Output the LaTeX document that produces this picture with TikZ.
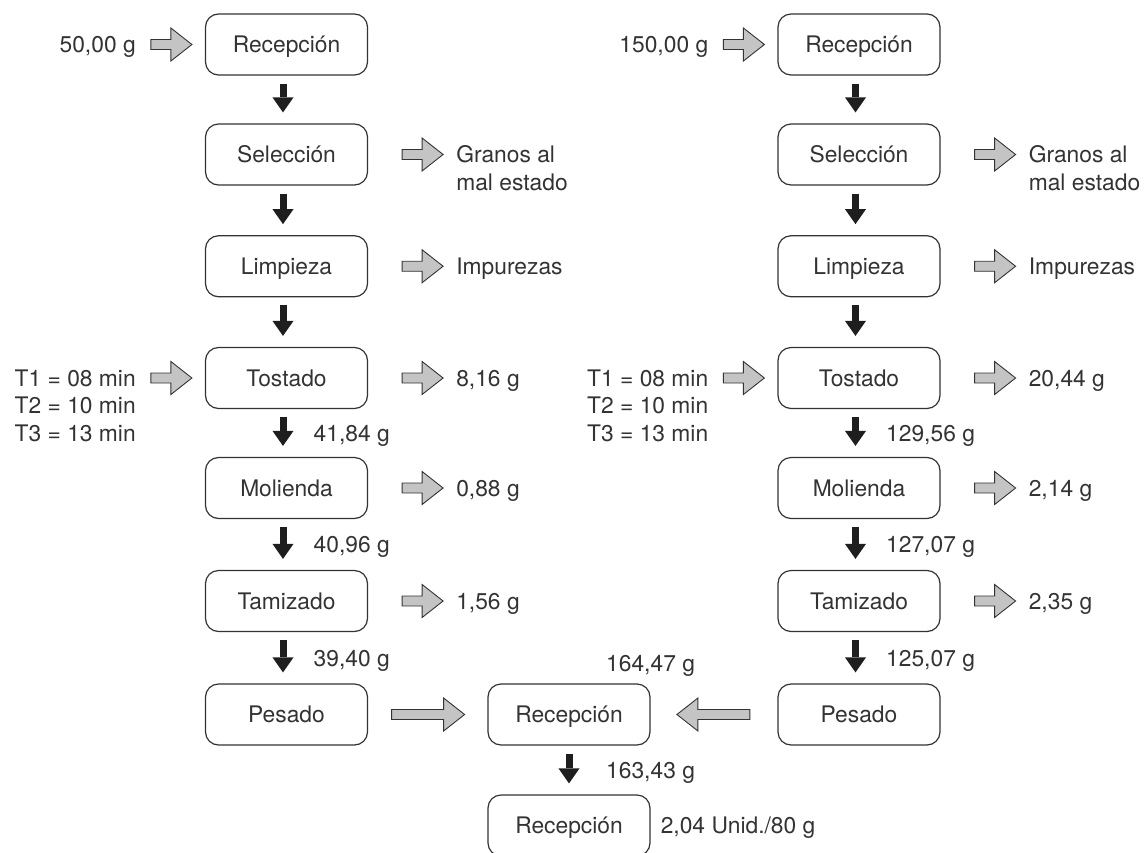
\documentclass[tikz,border=0pt]{standalone}
\usepackage{fontspec}
\setmainfont{TeX Gyre Heros}
\usetikzlibrary{arrows.meta,calc}
\definecolor{ink}{HTML}{333333}
\definecolor{gfill}{HTML}{C4C4C4}
\definecolor{blk}{HTML}{1E1E1E}
\begin{document}
\begin{tikzpicture}[x=1pt,y=1pt,
  txt/.style={inner sep=0pt, text height=16.5pt, text depth=0pt, text=ink, font=\fontsize{22.8}{27.5}\selectfont},
  box/.style={txt, draw=ink, line width=1.2pt, rounded corners=13pt, minimum width=162pt, minimum height=61pt},
  down/.style={draw=blk, line width=7pt, -{Triangle[length=15pt,width=21pt,line width=0pt]}},
  pics/fat/.style={code={\draw[draw=ink, fill=gfill, line width=0.9pt, line join=miter]
     (0,-5)--({#1-21},-5)--({#1-21},-16.5)--(#1,0)--({#1-21},16.5)--({#1-21},5)--(0,5)--cycle;}}
]
\useasboundingbox (0,0) rectangle (1144,-852);

% ---------- left column ----------
\node[box] (l1) at (286.5,-44.5)  {Recepción};
\node[box] (l2) at (286.5,-154.5) {Selección};
\node[box] (l3) at (286.5,-266.25){Limpieza};
\node[box] (l4) at (286.5,-378)   {Tostado};
\node[box] (l5) at (286.5,-488)   {Molienda};
\node[box] (l6) at (286.5,-601)   {Tamizado};
\node[box] (l7) at (286.5,-714.5) {Pesado};

% ---------- right column ----------
\node[box] (r1) at (859,-44.5)  {Recepción};
\node[box] (r2) at (859,-154.5) {Selección};
\node[box] (r3) at (859,-266.25){Limpieza};
\node[box] (r4) at (859,-378)   {Tostado};
\node[box] (r5) at (859,-488)   {Molienda};
\node[box] (r6) at (859,-601)   {Tamizado};
\node[box] (r7) at (859,-714.5) {Pesado};

% ---------- middle ----------
\node[box] (m1) at (569,-714.5) {Recepción};
\node[box] (m2) at (569,-825.5) {Recepción};

% ---------- black flow arrows ----------
\foreach \c in {l,r}{
  \foreach \a/\b in {1/2,2/3,3/4,4/5,5/6,6/7}{
    \draw[down] ([xshift=-3.5pt,yshift=-8pt]\c\a.south) -- ([xshift=-3.5pt,yshift=11pt]\c\b.north);
  }
}
\draw[down] ([yshift=-8pt]m1.south) -- ([yshift=11pt]m2.north);

% ---------- flow labels ----------
\node[txt, anchor=west] (w1) at ($(l4.south)!0.5!(l5.north)+(27,0)$) {41,84 g};
\node[txt, anchor=west] (w2) at ($(l5.south)!0.5!(l6.north)+(27,0)$) {40,96 g};
\node[txt, anchor=west] (w3) at ($(l6.south)!0.5!(l7.north)+(27,0)$) {39,40 g};
\node[txt, anchor=west] (w4) at ($(r4.south)!0.5!(r5.north)+(27,0)$) {129,56 g};
\node[txt, anchor=west] (w5) at ($(r5.south)!0.5!(r6.north)+(27,0)$) {127,07 g};
\node[txt, anchor=west] (w6) at ($(r6.south)!0.5!(r7.north)+(27,0)$) {125,07 g};
\node[txt, anchor=west] (w7) at ($(m1.south)!0.5!(m2.north)+(37,0)$) {163,43 g};
\node[txt, anchor=west] (w8) at (606,-663) {164,47 g};
\node[txt, anchor=west] (w9) at ($(m2.east)+(10,0)$) {2,04 Unid./80 g};

% ---------- inputs ----------
\pic at ($(l1.west)+(-54,0)$) {fat=41};
\node[txt, anchor=east] (in1) at ($(l1.west)+(-69,0)$) {50,00 g};
\pic at ($(r1.west)+(-54,0)$) {fat=41};
\node[txt, anchor=east] (in2) at ($(r1.west)+(-69,0)$) {150,00 g};

\pic at ($(l4.west)+(-54,0)$) {fat=41};
\node[txt, anchor=east] (tl1) at ($(l4.west)+(-69,0)$) {T1 = 08 min};
\node[txt, anchor=west] (tl2) at ([yshift=-27.5pt]tl1.west) {T2 = 10 min};
\node[txt, anchor=west] (tl3) at ([yshift=-27.5pt]tl2.west) {T3 = 13 min};
\pic at ($(r4.west)+(-54,0)$) {fat=41};
\node[txt, anchor=east] (tr1) at ($(r4.west)+(-69,0)$) {T1 = 08 min};
\node[txt, anchor=west] (tr2) at ([yshift=-27.5pt]tr1.west) {T2 = 10 min};
\node[txt, anchor=west] (tr3) at ([yshift=-27.5pt]tr2.west) {T3 = 13 min};

% ---------- outputs ----------
\foreach \c in {l,r}{
  \foreach \k in {2,3,4,5,6}{
    \pic at ($(\c\k.east)+(34,0)$) {fat=41};
  }
}
\node[txt, anchor=west] (ol2) at ($(l2.east)+(88,0)$) {Granos al};
\node[txt, anchor=west] (ol2b) at ([yshift=-28pt]ol2.west) {mal estado};
\node[txt, anchor=west] (ol3) at ($(l3.east)+(88,0)$) {Impurezas};
\node[txt, anchor=west] (ol4) at ($(l4.east)+(88,0)$) {8,16 g};
\node[txt, anchor=west] (ol5) at ($(l5.east)+(88,0)$) {0,88 g};
\node[txt, anchor=west] (ol6) at ($(l6.east)+(88,0)$) {1,56 g};
\node[txt, anchor=west] (or2) at ($(r2.east)+(88,0)$) {Granos al};
\node[txt, anchor=west] (or2b) at ([yshift=-28pt]or2.west) {mal estado};
\node[txt, anchor=west] (or3) at ($(r3.east)+(88,0)$) {Impurezas};
\node[txt, anchor=west] (or4) at ($(r4.east)+(88,0)$) {20,44 g};
\node[txt, anchor=west] (or5) at ($(r5.east)+(88,0)$) {2,14 g};
\node[txt, anchor=west] (or6) at ($(r6.east)+(88,0)$) {2,35 g};

% ---------- merge arrows ----------
\pic at ($(l7.east)+(23.5,0)$) {fat=73};
\pic[xscale=-1] at ($(r7.west)+(-27.5,0)$) {fat=73};
\end{tikzpicture}
\end{document}
